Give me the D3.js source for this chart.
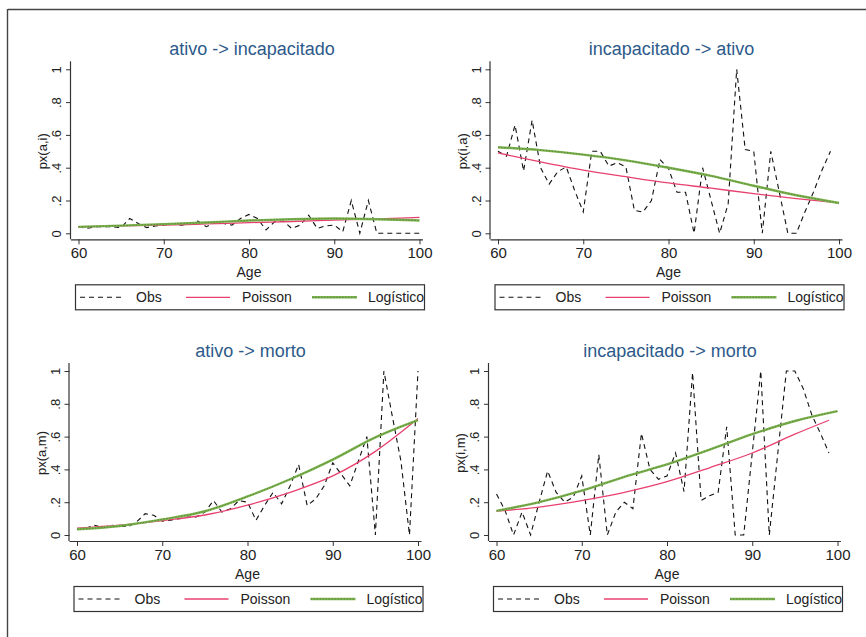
<!DOCTYPE html>
<html><head><meta charset="utf-8">
<script src="https://cdn.jsdelivr.net/npm/d3@7"></script>
<style>body{margin:0;background:#fff}svg{display:block}</style>
</head><body>
<script>
// ---- data ----
const ages60to100 = [60,61,62,63,64,65,66,67,68,69,70,71,72,73,74,75,76,77,78,79,80,81,82,83,84,85,86,87,88,89,90,91,92,93,94,95,96,97,98,99,100];
const ages60to99 = ages60to100.slice(0, 40);
const fitAges = [60,65,70,75,80,85,90,95,100];
const fitAges99 = [60,65,70,75,80,85,90,95,99];

const titles = ["ativo -> incapacitado", "incapacitado -> ativo", "ativo -> morto", "incapacitado -> morto"];
const yTitles = ["px(a,i)", "px(i,a)", "px(a,m)", "px(i,m)"];

const obsAI = [.04,.03,.04,.04,.04,.035,.09,.06,.035,.045,.05,.06,.05,.055,.075,.04,.065,.06,.05,.09,.115,.09,.02,.07,.075,.03,.05,.11,.03,.045,.05,.01,.2,0,.2,0,0,0,0,0,0];
const poisAI = [.04,.045,.05,.057,.065,.072,.08,.088,.097];
const logiAI = [.039,.047,.056,.066,.078,.086,.09,.086,.078];

const obsIA = [.50,.47,.66,.38,.69,.40,.30,.375,.405,.26,.13,.50,.50,.41,.43,.405,.14,.13,.20,.45,.395,.25,.25,0,.40,.20,0,.18,1.0,.51,.50,0,.50,.25,0,0,.13,.25,.385,.50];
const poisIA = [.49,.435,.385,.345,.307,.275,.242,.212,.185];
const logiIA = [.525,.507,.48,.445,.40,.35,.29,.232,.185];

const obsAM = [.035,.04,.06,.045,.06,.055,.05,.08,.13,.12,.085,.09,.10,.11,.11,.14,.21,.14,.16,.21,.20,.09,.18,.26,.19,.30,.43,.18,.22,.30,.44,.37,.30,.45,.60,0,1.0,.72,.45,0,1.0];
const poisAM = [.042,.06,.088,.122,.182,.26,.36,.51,.71];
const logiAM = [.035,.055,.095,.145,.235,.34,.46,.595,.70];

const obsIM = [.25,.15,0,.14,0,.20,.39,.26,.20,.23,.36,0,.49,0,.14,.20,.16,.62,.40,.34,.36,.50,.265,.99,.21,.24,.26,.66,0,0,.5,1.0,0,.5,1.0,1.0,.89,.73,.62,.50];
const poisIM = [.145,.17,.21,.26,.325,.41,.50,.615,.70];
const logiIM = [.147,.2,.27,.355,.43,.52,.615,.695,.755];

const xTicks = [60,70,80,90,100];
const yTicks = [0,.2,.4,.6,.8,1];
const yTickLabels = ["0",".2",".4",".6",".8","1"];
const legendLabels = ["Obs","Poisson","Logístico"];

// ---- layout ----
const W = 866, H = 637;
const svg = d3.select("body").append("svg").attr("width", W).attr("height", H);
const FONT = "Liberation Sans, Arial, Helvetica, sans-serif";

// outer frame (scan edges)
svg.append("line").attr("x1",8).attr("y1",9.5).attr("x2",W).attr("y2",9.5).attr("stroke","#444").attr("stroke-width",1.4);
svg.append("line").attr("x1",7.5).attr("y1",9).attr("x2",7.5).attr("y2",H).attr("stroke","#444").attr("stroke-width",1.4);

const panels = [
  {ox:71,   oy:69.3, obsX: ages60to100, obs: obsAI, pX: fitAges,   pois: poisAI, lX: fitAges, logi: logiAI},
  {ox:490.5,oy:69.3, obsX: ages60to99,  obs: obsIA, pX: fitAges,   pois: poisIA, lX: fitAges, logi: logiIA},
  {ox:69.5, oy:371,  obsX: ages60to100, obs: obsAM, pX: fitAges,   pois: poisAM, lX: fitAges, logi: logiAM},
  {ox:489,  oy:371,  obsX: ages60to99,  obs: obsIM, pX: fitAges99, pois: poisIM, lX: fitAges, logi: logiIM}
];

const OBS_COL = "#111", POIS_COL = "#e8406e", LOGI_COL = "#7cb24f", LOGI_DARK = "#4e7a2c", TITLE_COL = "#2d5a8a", AX_COL = "#333";

function drawLogi(g, d) {
  g.append("path").attr("d", d).attr("fill","none").attr("stroke",LOGI_COL).attr("stroke-width",2.4);
  g.append("path").attr("d", d).attr("fill","none").attr("stroke",LOGI_DARK).attr("stroke-width",0.9).attr("stroke-dasharray","1.5,1.5").attr("opacity",0.8);
}

panels.forEach((p, i) => {
  const g = svg.append("g");
  const x = d3.scaleLinear().domain([60,100]).range([p.ox + 7.5, p.ox + 348.5]);
  const y = d3.scaleLinear().domain([0,1]).range([p.oy + 164, p.oy]);
  const axisY = p.oy + 170;

  // title
  g.append("text").attr("x", p.ox + 181).attr("y", p.oy - 14).attr("text-anchor","middle")
    .attr("font-family",FONT).attr("font-size",18).attr("fill",TITLE_COL).text(titles[i]);

  // x axis
  const xa = d3.axisBottom(x).tickValues(xTicks).tickSize(5).tickPadding(3).tickFormat(d3.format("d"));
  const gx = g.append("g").attr("transform",`translate(0,${axisY})`).call(xa);
  gx.select(".domain").attr("d", `M${p.ox},0.5H${p.ox+352}`).attr("stroke",AX_COL).attr("stroke-width",1.2);
  gx.selectAll(".tick line").attr("stroke",AX_COL);
  gx.selectAll(".tick text").attr("font-family",FONT).attr("font-size",15).attr("fill","#222");

  // y axis
  const ya = d3.axisLeft(y).tickValues(yTicks).tickSize(5).tickFormat((d,k) => yTickLabels[k]);
  const gy = g.append("g").attr("transform",`translate(${p.ox},0)`).call(ya);
  gy.select(".domain").attr("d", `M-0.5,${p.oy-8}V${axisY}`).attr("stroke",AX_COL).attr("stroke-width",1.2);
  gy.selectAll(".tick line").attr("stroke",AX_COL);
  gy.selectAll(".tick text")
    .attr("font-family",FONT).attr("font-size",13).attr("fill","#222")
    .attr("x",0).attr("dy",0).attr("text-anchor","middle")
    .attr("transform","translate(-10,0) rotate(-90)");

  // axis titles
  g.append("text").attr("x", p.ox + 178).attr("y", axisY + 38).attr("text-anchor","middle")
    .attr("font-family",FONT).attr("font-size",14).attr("fill","#222").text("Age");
  g.append("text").attr("transform",`translate(${p.ox - 24},${p.oy + 82}) rotate(-90)`).attr("text-anchor","middle")
    .attr("font-family",FONT).attr("font-size",13).attr("fill","#222").text(yTitles[i]);

  // lines
  const lineObs = d3.line().x((d,k) => x(p.obsX[k])).y(d => y(d));
  g.append("path").attr("d", lineObs(p.obs)).attr("fill","none").attr("stroke",OBS_COL)
    .attr("stroke-width",1.1).attr("stroke-dasharray","5,4");
  const linePois = d3.line().x((d,k) => x(p.pX[k])).y(d => y(d)).curve(d3.curveMonotoneX);
  g.append("path").attr("d", linePois(p.pois)).attr("fill","none").attr("stroke",POIS_COL).attr("stroke-width",1.3);
  const lineLogi = d3.line().x((d,k) => x(p.lX[k])).y(d => y(d)).curve(d3.curveMonotoneX);
  drawLogi(g, lineLogi(p.logi));

  // legend
  const lx = p.ox + 4, ly = p.oy + 215, lw = 349, lh = 25;
  const lg = g.append("g");
  lg.append("rect").attr("x",lx+0.5).attr("y",ly+0.5).attr("width",lw).attr("height",lh)
    .attr("fill","#fff").attr("stroke","#333").attr("stroke-width",1.2);
  const cy = ly + lh/2 + 0.5;
  const items = [
    {x1: lx+5, x2: lx+48, tx: lx+61},
    {x1: lx+111, x2: lx+155, tx: lx+167},
    {x1: lx+237, x2: lx+282, tx: lx+293}
  ];
  lg.append("line").attr("x1",items[0].x1).attr("x2",items[0].x2).attr("y1",cy).attr("y2",cy)
    .attr("stroke",OBS_COL).attr("stroke-width",1.1).attr("stroke-dasharray","5,4");
  lg.append("line").attr("x1",items[1].x1).attr("x2",items[1].x2).attr("y1",cy).attr("y2",cy)
    .attr("stroke",POIS_COL).attr("stroke-width",1.3);
  drawLogi(lg, `M${items[2].x1},${cy}H${items[2].x2}`);
  items.forEach((it, k) => {
    lg.append("text").attr("x", it.tx).attr("y", cy + 5).attr("font-family",FONT).attr("font-size",14)
      .attr("fill","#222").text(legendLabels[k]);
  });
});
</script>
</body></html>
